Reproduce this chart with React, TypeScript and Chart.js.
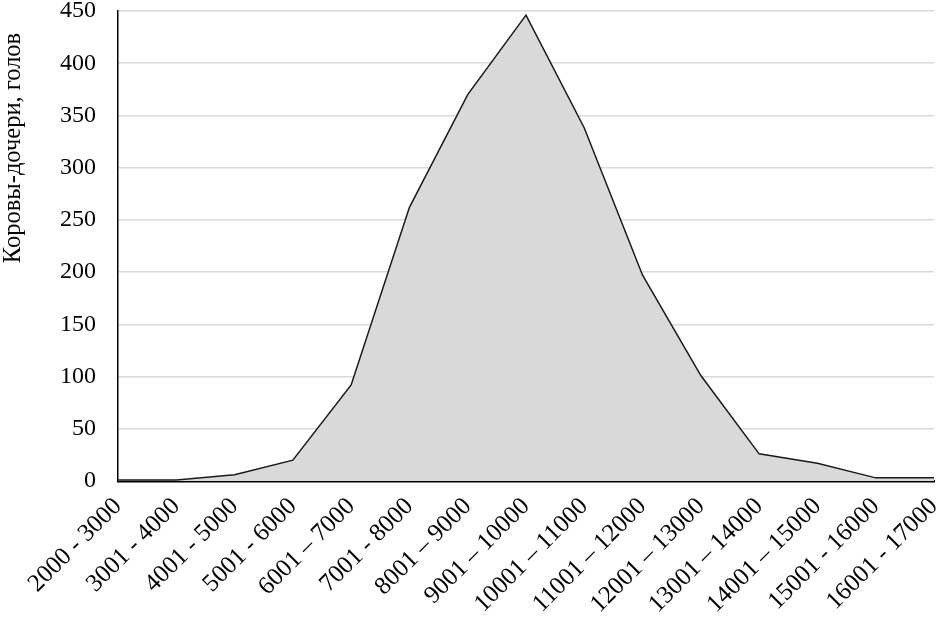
import React, { useEffect, useRef } from "react";
import { Chart, registerables } from "chart.js";

Chart.register(...registerables);

const categories = [
  "2000 - 3000",
  "3001 - 4000",
  "4001 - 5000",
  "5001 - 6000",
  "6001 – 7000",
  "7001 - 8000",
  "8001 – 9000",
  "9001 – 10000",
  "10001 – 11000",
  "11001 – 12000",
  "12001 – 13000",
  "13001 – 14000",
  "14001 – 15000",
  "15001 - 16000",
  "16001 - 17000",
];

const cows = [1, 1, 6, 20, 92, 262, 370, 446, 338, 197, 101, 26, 17, 3, 3];

const yTitle = "Коровы-дочери, голов";

const FONT = "'Liberation Serif', 'Times New Roman', serif";

export default function App() {
  const ref = useRef<HTMLCanvasElement | null>(null);

  useEffect(() => {
    document.body.style.margin = "0";
    const canvas = ref.current;
    if (!canvas) return;

    const titlePlugin = {
      id: "yTitlePlugin",
      afterDraw(chart: any) {
        const ctx = chart.ctx;
        ctx.save();
        ctx.translate(14, 148);
        ctx.rotate(-Math.PI / 2);
        ctx.font = `24.5px ${FONT}`;
        ctx.fillStyle = "#000";
        ctx.textAlign = "center";
        ctx.textBaseline = "middle";
        ctx.fillText(yTitle, 0, 0);
        ctx.restore();
      },
    };

    const chart = new Chart(canvas, {
      type: "line",
      data: {
        labels: categories,
        datasets: [
          {
            data: cows,
            borderColor: "#1a1a1a",
            borderWidth: 1.5,
            backgroundColor: "#d9d9d9",
            fill: "origin",
            pointRadius: 0,
            tension: 0,
          },
        ],
      },
      options: {
        animation: false,
        responsive: false,
        maintainAspectRatio: false,
        layout: { padding: { top: 11, right: 2, left: 0, bottom: 0 } },
        plugins: {
          legend: { display: false },
          tooltip: { enabled: false },
        },
        scales: {
          x: {
            offset: false,
            grid: { display: false, drawTicks: false },
            border: { display: true, color: "#000", width: 2.5 },
            ticks: {
              color: "#000",
              font: { family: FONT, size: 25 },
              minRotation: 45,
              maxRotation: 45,
              autoSkip: false,
              padding: 11,
            },
            afterFit(scale: any) {
              scale.height = 138;
              scale.paddingLeft = 0;
              scale.paddingRight = 0;
              scale.paddingTop = 0;
              scale.paddingBottom = 0;
            },
          },
          y: {
            min: 0,
            max: 450,
            ticks: {
              stepSize: 50,
              color: "#000",
              font: { family: FONT, size: 24 },
              padding: 22,
            },
            grid: { color: "#d9d9d9", lineWidth: 1.5, drawTicks: false },
            border: { display: true, color: "#000", width: 1.5 },
            afterFit(scale: any) {
              scale.width = 118;
              scale.paddingLeft = 0;
              scale.paddingRight = 0;
              scale.paddingTop = 0;
              scale.paddingBottom = 0;
            },
          },
        },
      },
      plugins: [titlePlugin],
    });

    return () => chart.destroy();
  }, []);

  return <canvas ref={ref} width={936} height={619} style={{ display: "block" }} />;
}
